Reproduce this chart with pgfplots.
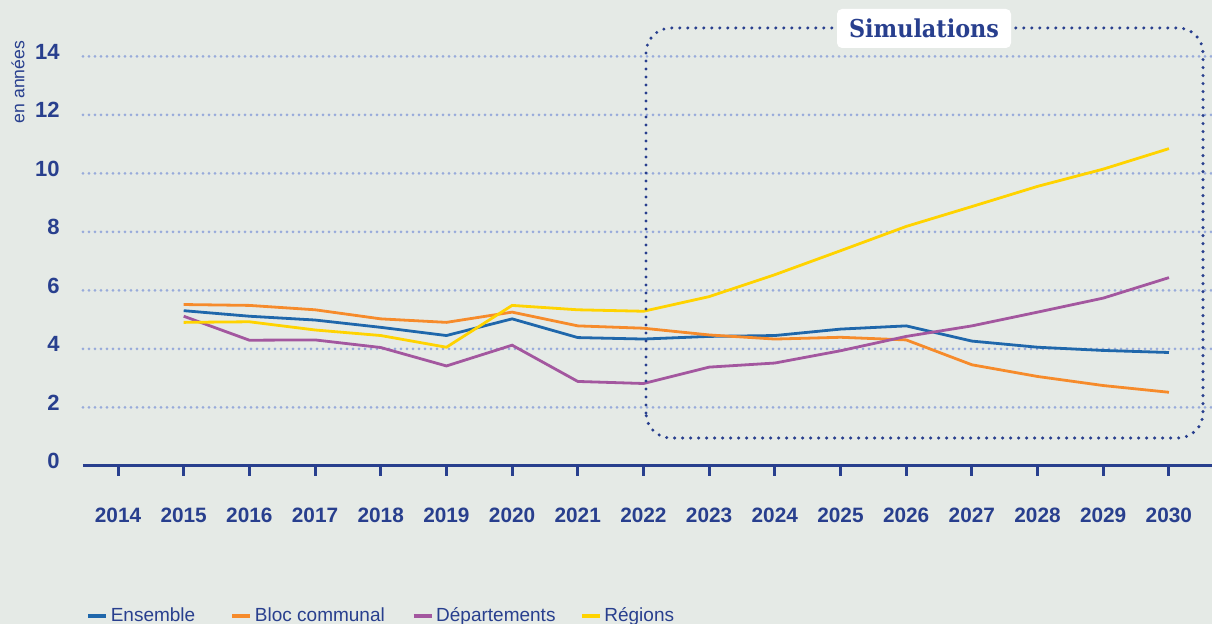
\documentclass[border=0pt]{standalone}
\usepackage{fontspec}
\setmainfont{Liberation Sans}
\newfontfamily\slab{DejaVu Serif}
\usepackage{pgfplots}
\usepackage{pgfplotstable}
\pgfplotsset{compat=1.18}
\definecolor{bg}{HTML}{E5EAE6}
\definecolor{textblue}{HTML}{283F8E}
\definecolor{gridblue}{HTML}{98ABDB}
\definecolor{cens}{HTML}{1F67AB}
\definecolor{cbloc}{HTML}{F68B2B}
\definecolor{cdep}{HTML}{A3579F}
\definecolor{creg}{HTML}{FFD300}
\pgfplotstableread{
year ens bloc dep reg
2015 5.31 5.52 5.12 4.91
2016 5.12 5.49 4.30 4.93
2017 4.99 5.34 4.31 4.65
2018 4.74 5.03 4.05 4.46
2019 4.46 4.91 3.42 4.06
2020 5.03 5.26 4.13 5.49
2021 4.39 4.79 2.89 5.34
2022 4.34 4.71 2.82 5.29
2023 4.43 4.48 3.38 5.79
2024 4.46 4.34 3.52 6.54
2025 4.68 4.40 3.94 7.36
2026 4.79 4.31 4.43 8.19
2027 4.27 3.46 4.79 8.87
2028 4.06 3.06 5.26 9.56
2029 3.95 2.75 5.74 10.15
2030 3.88 2.52 6.44 10.85
}\datatable
\begin{document}
\begin{tikzpicture}[x=0.5pt,y=0.5pt]
\fill[bg] (0,0) rectangle (1212,624);
\useasboundingbox (0,0) rectangle (1212,624);
\begin{axis}[
  at={(41.5pt,79pt)}, anchor=south west,
  scale only axis, width=564.5pt, height=204.75pt,
  xmin=2013.467, xmax=2030.655, ymin=0, ymax=14,
  clip=false,
  axis x line*=bottom, axis y line*=left,
  x axis line style={draw=textblue, line width=1.5pt, -},
  y axis line style={draw=none},
  xtick={2014,...,2030},
  x tick style={draw=textblue, line width=1.5pt},
  tick align=outside, major tick length=5pt,
  ytick={2,4,...,14}, extra y ticks={0}, extra y tick style={grid=none},
  y tick style={draw=none},
  ymajorgrids,
  major grid style={draw=gridblue, line width=1.5pt, line cap=round, dash pattern=on 0pt off 3pt},
  ticklabel style={font=\bfseries\fontsize{10.4}{12}\selectfont, text=textblue},
  /pgf/number format/assume math mode=true,
  /pgf/number format/1000 sep={},
  xticklabel style={anchor=north, inner sep=0pt, yshift=-16pt},
  yticklabel style={anchor=east, inner sep=0pt, xshift=-6.5pt, yshift=2.5pt, font=\bfseries\fontsize{11}{13}\selectfont},
  ylabel={en années},
  every axis y label/.style={at={(axis description cs:-0.0576,0.9377)}, rotate=90, anchor=center, font=\fontsize{8.8}{10}\selectfont, text=textblue},
  legend style={at={(axis description cs:0.00266,-0.3665)}, anchor=west, draw=none, fill=none, inner sep=0pt, outer sep=0pt, legend columns=-1, font=\fontsize{9.5}{11}\selectfont, text=textblue, nodes={inner sep=0pt, inner xsep=1.2pt}},
  legend image code/.code={\draw[line width=2.2pt] (0pt,0pt) -- (9pt,0pt);},
]
\addplot[cens, line width=1.4pt] table[x=year, y=ens] {\datatable};
\addlegendentry{\makebox[58.5pt][l]{Ensemble}}
\addplot[cbloc, line width=1.4pt] table[x=year, y=bloc] {\datatable};
\addlegendentry{\makebox[77pt][l]{Bloc communal}}
\addplot[cdep, line width=1.4pt] table[x=year, y=dep] {\datatable};
\addlegendentry{\makebox[70.5pt][l]{Départements}}
\addplot[creg, line width=1.4pt] table[x=year, y=reg] {\datatable};
\addlegendentry{Régions}
\end{axis}
\draw[textblue, line width=1.7pt, line cap=round, dash pattern=on 0pt off 4pt, rounded corners=12.5pt] (646,186) rectangle (1203,596);
\node[fill=white, rounded corners=2.5pt, minimum width=87pt, minimum height=19.5pt, inner sep=0pt, text=textblue] at (924,595.5) {\resizebox{75pt}{\height}{\slab\bfseries\fontsize{12.3}{14}\selectfont Simulations}};
\end{tikzpicture}
\end{document}
